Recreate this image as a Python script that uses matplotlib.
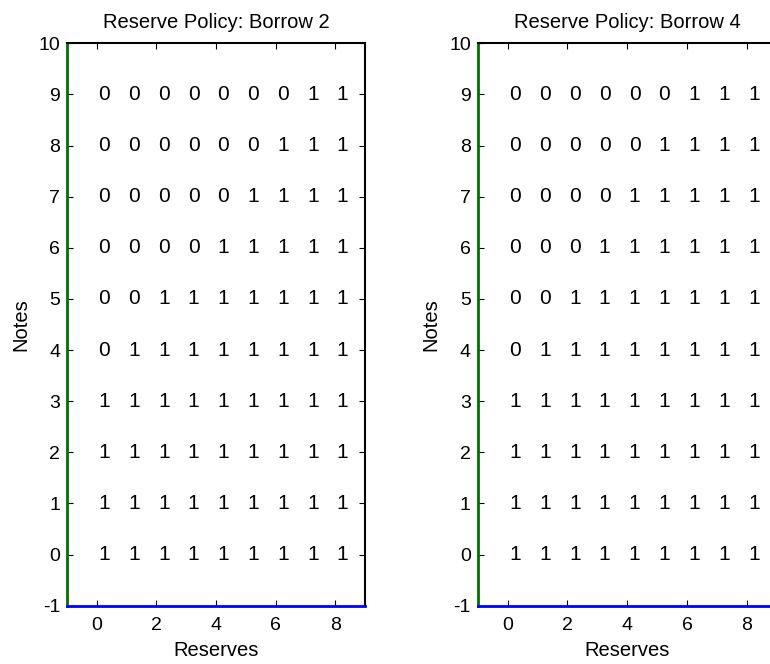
import numpy as np
import matplotlib.pyplot as plt

plt.rcParams['font.family'] = ['Liberation Sans', 'DejaVu Sans']
plt.rcParams['axes.unicode_minus'] = False

# decision grids: rows are notes 0..9, columns are reserves 0..8
reserves = [0, 1, 2, 3, 4, 5, 6, 7, 8]
notes = [0, 1, 2, 3, 4, 5, 6, 7, 8, 9]

borrow2 = [
    [1, 1, 1, 1, 1, 1, 1, 1, 1],
    [1, 1, 1, 1, 1, 1, 1, 1, 1],
    [1, 1, 1, 1, 1, 1, 1, 1, 1],
    [1, 1, 1, 1, 1, 1, 1, 1, 1],
    [0, 1, 1, 1, 1, 1, 1, 1, 1],
    [0, 0, 1, 1, 1, 1, 1, 1, 1],
    [0, 0, 0, 0, 1, 1, 1, 1, 1],
    [0, 0, 0, 0, 0, 1, 1, 1, 1],
    [0, 0, 0, 0, 0, 0, 1, 1, 1],
    [0, 0, 0, 0, 0, 0, 0, 1, 1],
]
borrow4 = [
    [1, 1, 1, 1, 1, 1, 1, 1, 1],
    [1, 1, 1, 1, 1, 1, 1, 1, 1],
    [1, 1, 1, 1, 1, 1, 1, 1, 1],
    [1, 1, 1, 1, 1, 1, 1, 1, 1],
    [0, 1, 1, 1, 1, 1, 1, 1, 1],
    [0, 0, 1, 1, 1, 1, 1, 1, 1],
    [0, 0, 0, 1, 1, 1, 1, 1, 1],
    [0, 0, 0, 0, 1, 1, 1, 1, 1],
    [0, 0, 0, 0, 0, 1, 1, 1, 1],
    [0, 0, 0, 0, 0, 0, 1, 1, 1],
]
titles = ['Reserve Policy: Borrow 2', 'Reserve Policy: Borrow 4']

W, H = 770, 664
fig = plt.figure(figsize=(W / 100, H / 100), dpi=100)

# axes boxes in pixels (left, bottom-from-top, right, top-from-top)
boxes = [(67, 605.7, 365, 43.3), (477.7, 605.7, 776.7, 43.3)]

for (x0, yb, x1, yt), grid, title in zip(boxes, [borrow2, borrow4], titles):
    ax = fig.add_axes([x0 / W, 1 - yb / H, (x1 - x0) / W, (yb - yt) / H])
    ax.set_xlim(-1, 9)
    ax.set_ylim(-1, 10)
    ax.set_xticks([0, 2, 4, 6, 8])
    ax.set_yticks(np.arange(-1, 11))
    ax.tick_params(direction='in', top=True, right=True, length=4,
                   labelsize=14, width=0.8)
    ax.tick_params(axis='x', pad=8)
    ax.tick_params(axis='y', pad=5)
    for s in ['top', 'right']:
        ax.spines[s].set_linewidth(1.5)
    ax.spines['left'].set_color('#007000')
    ax.spines['left'].set_linewidth(2)
    ax.spines['bottom'].set_color('#0000ff')
    ax.spines['bottom'].set_linewidth(2)

    for j, n in enumerate(notes):
        for i, r in enumerate(reserves):
            ax.text(r + 0.05, n, str(grid[j][i]), ha='left', va='center',
                    fontsize=15)

    ax.set_title(title, fontsize=14.5, pad=11)
    ax.set_xlabel('Reserves', fontsize=14.5, labelpad=5)
    ax.set_ylabel('Notes', fontsize=14.5, labelpad=6)

fig.savefig('out.png', dpi=100)
